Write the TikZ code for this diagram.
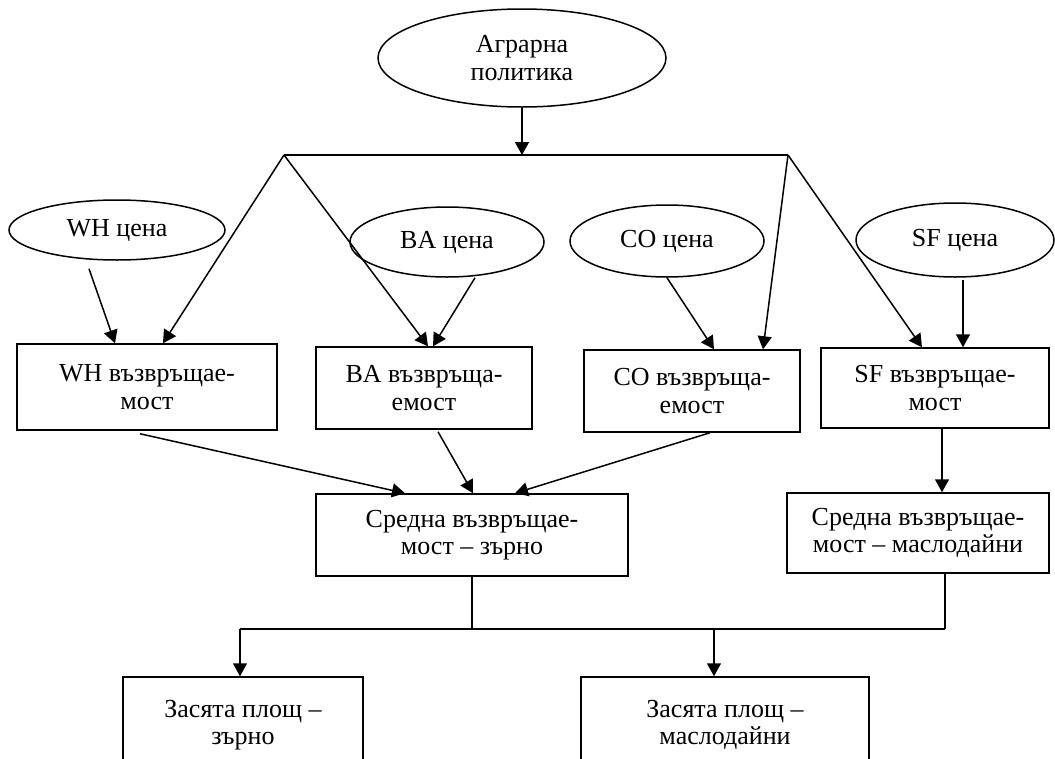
\documentclass[tikz,border=0pt]{standalone}
\usepackage{fontspec}
\setmainfont{Liberation Serif}[Script=Cyrillic,Language=Bulgarian]
\usetikzlibrary{arrows.meta,shapes.geometric,calc}
\begin{document}
\begin{tikzpicture}[x=1pt,y=-1pt,
  line width=1.5pt,
  every node/.style={font=\fontsize{26}{27.5}\selectfont, align=center, inner sep=0pt},
  oval/.style={ellipse, draw},
  box/.style={rectangle, draw},
  arr/.style={-{Triangle[length=13pt,width=14pt]}}]
\useasboundingbox (0,0) rectangle (1055,758);
\clip (0,0) rectangle (1055,758);

% policy and price ellipses
\node[oval, minimum width=288pt, minimum height=98pt] (pol) at (522,58) {Аграрна\\политика};
\node[oval, minimum width=216pt, minimum height=60pt] (whp) at (117,230) {WH цена};
\node[oval, minimum width=194pt, minimum height=70pt] (bap) at (447,242) {BA цена};
\node[oval, minimum width=194pt, minimum height=72pt] (cop) at (667,241) {CO цена};
\node[oval, minimum width=198pt, minimum height=74pt] (sfp) at (955,240) {SF цена};

% returns per crop
\node[box, minimum width=260pt, minimum height=86pt] (whr) at (147,387) {WH възвръщае-\\мост};
\node[box, minimum width=216pt, minimum height=82pt] (bar) at (424,388) {BA възвръща-\\емост};
\node[box, minimum width=216pt, minimum height=82pt] (cor) at (692,391) {CO възвръща-\\емост};
\node[box, minimum width=228pt, minimum height=80pt] (sfr) at (935,388) {SF възвръщае-\\мост};

% average returns
\node[box, minimum width=312pt, minimum height=82pt] (avgg) at (472,535) {Средна възвръщае-\\мост – зърно};
\node[box, minimum width=262pt, minimum height=80pt] (avgo) at (918,533) {Средна възвръщае-\\мост – маслодайни};

% sown areas
\node[box, minimum width=240pt, minimum height=96pt] (areag) at (243,725) {Засята площ –\\зърно};
\node[box, minimum width=288pt, minimum height=96pt] (areao) at (725,725) {Засята площ –\\маслодайни};

% distribution line below the policy node
\coordinate (hl) at (284,155);
\coordinate (hr) at (788,155);
\draw (hl) -- (hr);
\draw[arr] (pol.south) -- (pol.south |- hl);
\draw[arr] (hl) -- ([xshift=16pt]whr.north);
\draw[arr] (hl) -- ([xshift=4pt]bar.north);
\draw[arr] (hr) -- ([xshift=71pt]cor.north);
\draw[arr] (hr) -- ([xshift=-13pt]sfr.north);

% prices to returns
\draw[arr] ([xshift=-28pt,yshift=-8pt]whp.south) -- ([xshift=-32pt]whr.north);
\draw[arr] ([xshift=28pt]bap.south) -- ([xshift=9pt]bar.north);
\draw[arr] (cop.south) -- ([xshift=22pt]cor.north);
\draw[arr] ([xshift=8pt,yshift=-2pt]sfp.south) -- ([xshift=8pt]sfp.south |- sfr.north);

% returns to averages
\draw[arr] ([xshift=-7pt,yshift=-3pt]whr.south) -- ([xshift=-67pt]avgg.north);
\draw[arr] ([xshift=14pt,yshift=-2pt]bar.south) -- ([xshift=1pt]avgg.north);
\draw[arr] ([xshift=18pt]cor.south) -- ([xshift=43pt]avgg.north);
\draw[arr] ([xshift=7pt]sfr.south) -- ([xshift=7pt]sfr.south |- avgo.north);

% averages to sown areas
\coordinate (bl) at (240,629);
\coordinate (br) at (945,629);
\coordinate (bm) at (714,629);
\draw (avgg.south) -- (avgg.south |- bl);
\draw ([xshift=27pt]avgo.south) -- (br);
\draw (bl) -- (br);
\draw[arr] (bl) -- (bl |- areag.north);
\draw[arr] (bm) -- (bm |- areao.north);
\end{tikzpicture}
\end{document}
